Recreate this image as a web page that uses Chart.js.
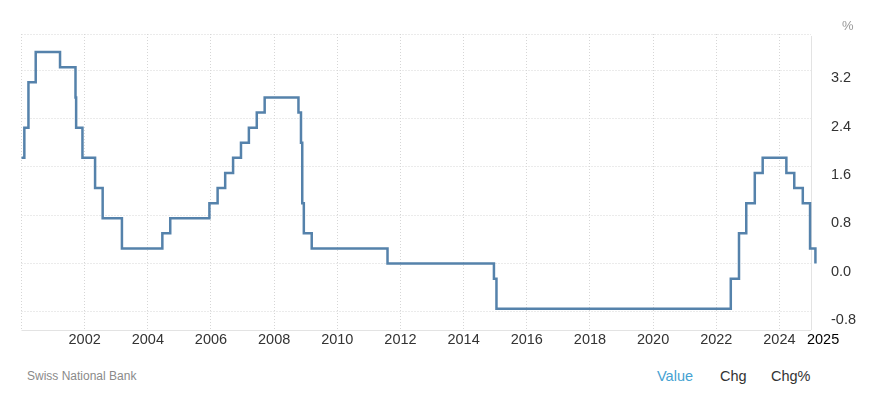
<!DOCTYPE html>
<html>
<head>
<meta charset="utf-8">
<script src="https://cdn.jsdelivr.net/npm/chart.js@4.4.1/dist/chart.umd.min.js"></script>
<style>
  body { margin: 0; background: #fff; font-family: "Liberation Sans", Arial, sans-serif; }
  #wrap { position: absolute; left: 0; top: 0; width: 876px; height: 360px; }
  .lbl { position: absolute; white-space: nowrap; line-height: 1; }
  #unit { left: 842px; top: 19px; font-size: 13px; color: #999; }
  #source { left: 27px; top: 370px; font-size: 12px; color: #8a8a8a; }
  .tab { top: 369px; font-size: 14.5px; color: #333; }
  #tabValue { left: 657px; color: #45a2d2; }
  #tabChg { left: 720px; }
  #tabPct { left: 771px; }
</style>
</head>
<body>
<div id="wrap"><canvas id="rate"></canvas></div>
<div class="lbl" id="unit">%</div>
<div class="lbl" id="source">Swiss National Bank</div>
<div class="lbl tab" id="tabValue">Value</div>
<div class="lbl tab" id="tabChg">Chg</div>
<div class="lbl tab" id="tabPct">Chg%</div>

<script>
//? Data: SNB policy rate, date as decimal year
const rateDates = [
  2000.00, 2000.09, 2000.22, 2000.45, 2001.22, 2001.71, 2001.73, 2001.93,
  2002.33, 2002.57, 2003.18, 2004.46, 2004.71, 2005.95, 2006.21, 2006.45,
  2006.70, 2006.95, 2007.20, 2007.45, 2007.70, 2008.77, 2008.85, 2008.89,
  2008.94, 2009.19, 2011.59, 2014.96, 2015.04, 2022.46, 2022.72, 2022.95,
  2023.22, 2023.47, 2024.22, 2024.47, 2024.74, 2024.97, 2025.14
]
const rateValues = [
  1.75, 2.25, 3.0, 3.5, 3.25, 2.75, 2.25, 1.75,
  1.25, 0.75, 0.25, 0.5, 0.75, 1.0, 1.25, 1.5,
  1.75, 2.0, 2.25, 2.5, 2.75, 2.5, 2.0, 1.0,
  0.5, 0.25, 0.0, -0.25, -0.75, -0.25, 0.5, 1.0,
  1.5, 1.75, 1.5, 1.25, 1.0, 0.25, 0.0
]

//? Axis ticks
const xTickYears = [2000, 2002, 2004, 2006, 2008, 2010, 2012, 2014, 2016, 2018, 2020, 2022, 2024, 2025]
const lastYear = 2025
const yTickValues = [-0.8, 0, 0.8, 1.6, 2.4, 3.2]
const yMin = -1.1
const yMax = 3.8

const points = rateDates.map((d, i) => ({ x: d, y: rateValues[i] }))
const gridColor = '#d6d6d6'
const axisColor = '#e3e3e3'
const font = { family: '"Liberation Sans", Arial, sans-serif', size: 14.5 }

// solid axis lines (bottom + right), grid lines stay dotted
const axisLines = {
  id: 'axisLines',
  beforeDatasetsDraw(chart) {
    const { ctx, chartArea: a } = chart
    ctx.save()
    ctx.strokeStyle = axisColor
    ctx.lineWidth = 1
    ctx.setLineDash([])
    ctx.beginPath()
    ctx.moveTo(a.left, a.bottom + 0.5)
    ctx.lineTo(a.right, a.bottom + 0.5)
    ctx.moveTo(a.right + 0.5, a.top + 2)
    ctx.lineTo(a.right + 0.5, a.bottom)
    ctx.stroke()
    ctx.restore()
  }
}

const ctx = document.getElementById('rate').getContext('2d')
const chart = new Chart(ctx, {
  type: 'line',
  data: {
    datasets: [{
      data: points,
      stepped: true,
      borderColor: '#5582ab',
      borderWidth: 2.5,
      pointRadius: 0,
      fill: false,
      clip: false,
    }],
  },
  options: {
    responsive: true,
    maintainAspectRatio: false,
    animation: false,
    layout: { padding: { left: 21.5, top: 34, right: 0, bottom: 0 } },
    plugins: { legend: { display: false }, tooltip: { enabled: false } },
    scales: {
      x: {
        type: 'linear',
        min: 2000,
        max: lastYear,
        afterBuildTicks: s => { s.ticks = xTickYears.map(v => ({ value: v })) },
        afterFit: s => { s.height = 30 },
        border: { display: false, dash: [1, 2] },
        grid: {
          drawTicks: false,
          color: c => (c.tick && c.tick.value === lastYear) ? 'rgba(0,0,0,0)' : gridColor,
        },
        ticks: {
          autoSkip: false,
          maxRotation: 0,
          padding: 1,
          font: font,
          color: c => c.tick.value === lastYear ? '#000' : '#333',
          // pad the last label so it sits right of the axis line
          callback: v => v === 2000 ? '' : (v === lastYear ? '      ' + v : String(v)),
        },
      },
      y: {
        position: 'right',
        min: yMin,
        max: yMax,
        afterBuildTicks: s => { s.ticks = yTickValues.concat([yMax]).map(v => ({ value: v })) },
        afterFit: s => { s.width = 65 },
        border: { display: false, dash: [1, 2] },
        grid: { drawTicks: false, color: gridColor },
        ticks: {
          padding: 20,
          labelOffset: 8,
          font: font,
          color: '#333',
          callback: v => v === yMax ? '' : v.toFixed(1),
        },
      },
    },
  },
  plugins: [axisLines],
})
</script>
</body>
</html>
